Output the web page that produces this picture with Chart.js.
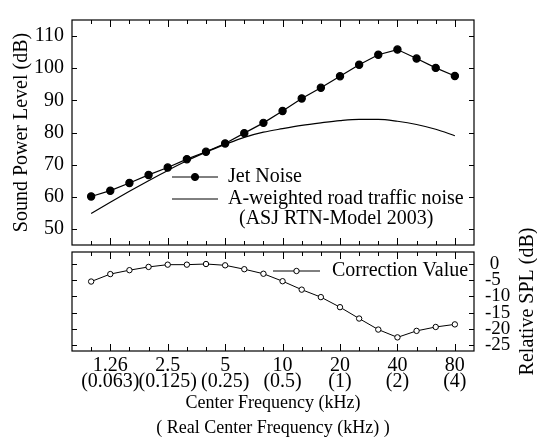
<!DOCTYPE html>
<html>
<head>
<meta charset="utf-8">
<script src="https://cdn.jsdelivr.net/npm/chart.js@4.4.1/dist/chart.umd.min.js"></script>
<style>
  html, body { margin: 0; padding: 0; background: #fff; }
  #wrap { position: relative; width: 537px; height: 448px; }
  #wrap canvas { position: absolute; left: 0; top: 0; }
</style>
</head>
<body>
<div id="wrap">
  <canvas id="top" width="537" height="448"></canvas>
  <canvas id="bottom" width="537" height="448"></canvas>
</div>
<script>
// 1/3 octave bands (model scale kHz)
var freqs = ["1", "1.26", "1.6", "2", "2.5", "3.15", "4", "5", "6.3", "8",
             "10", "12.5", "16", "20", "25", "31.5", "40", "50", "63", "80"];
// labelled bands and their real center frequency
var labelIdx = [1, 4, 7, 10, 13, 16, 19];
var realFreqs = ["0.063", "0.125", "0.25", "0.5", "1", "2", "4"];

var jetNoise = [60.1, 61.9, 64.3, 66.8, 69.1, 71.7, 74.0, 76.6, 79.8, 83.0,
                86.7, 90.6, 93.9, 97.5, 101.1, 104.2, 105.8, 103.0, 100.1, 97.6];
var roadTraffic = [54.8, 58.3, 61.7, 65.0, 68.2, 71.2, 73.9, 76.3, 78.5, 80.1,
                   81.2, 82.2, 83.0, 83.7, 84.1, 84.1, 83.5, 82.5, 81.0, 79.0];
var correction = [-5.4, -3.1, -1.9, -0.9, -0.2, -0.2, 0.0, -0.4, -1.6, -3.0,
                  -5.3, -7.9, -10.2, -13.3, -16.8, -20.2, -22.6, -20.6, -19.4, -18.6];

var splTicks = [50, 60, 70, 80, 90, 100, 110];
var relTicks = [0, -5, -10, -15, -20, -25];

var FONT = "'Liberation Serif', 'Times New Roman', serif";

function pts(arr) {
  return arr.map(function (v, i) { return { x: i, y: v }; });
}

// frame + inward tick marks
var frameTicks = {
  id: "frameTicks",
  afterDraw: function (chart) {
    var a = chart.chartArea, c = chart.ctx;
    var xs = chart.scales.x, ys = chart.scales.y;
    c.save();
    c.strokeStyle = "#000";
    c.lineWidth = 1.2;
    c.strokeRect(a.left, a.top, a.right - a.left, a.bottom - a.top);
    c.lineWidth = 1;
    c.beginPath();
    freqs.forEach(function (f, i) {
      var x = Math.round(xs.getPixelForValue(i)) + 0.5;
      var len = labelIdx.indexOf(i) >= 0 ? 7 : 4;
      c.moveTo(x, a.bottom); c.lineTo(x, a.bottom - len);
      c.moveTo(x, a.top); c.lineTo(x, a.top + len);
    });
    ys.ticks.forEach(function (t) {
      var y = Math.round(ys.getPixelForValue(t.value)) + 0.5;
      c.moveTo(a.left, y); c.lineTo(a.left + 5, y);
      c.moveTo(a.right, y); c.lineTo(a.right - 5, y);
    });
    c.stroke();
    c.restore();
  }
};

// legend drawn inside the plot
var boxLegend = {
  id: "boxLegend",
  afterDraw: function (chart, args, opts) {
    var c = chart.ctx;
    c.save();
    c.font = opts.size + "px " + FONT;
    c.fillStyle = "#000";
    c.textBaseline = "middle";
    opts.items.forEach(function (it) {
      if (it.line) {
        c.strokeStyle = "#000";
        c.lineWidth = 1;
        c.beginPath();
        c.moveTo(it.line[0], it.y);
        c.lineTo(it.line[1], it.y);
        c.stroke();
        if (it.marker) {
          c.beginPath();
          c.arc((it.line[0] + it.line[1]) / 2, it.y, it.marker.r, 0, Math.PI * 2);
          c.fillStyle = it.marker.fill;
          c.fill();
          c.stroke();
          c.fillStyle = "#000";
        }
      }
      c.fillText(it.text, it.tx, it.y);
    });
    if (opts.rightTitle) {
      var t = opts.rightTitle;
      c.translate(t.x, (chart.chartArea.top + chart.chartArea.bottom) / 2);
      c.rotate(-Math.PI / 2);
      c.textAlign = "center";
      c.font = t.size + "px " + FONT;
      c.fillText(t.text, 0, 0);
    }
    c.restore();
  }
};

Chart.defaults.font.family = FONT;
Chart.defaults.color = "#000";

new Chart(document.getElementById("top"), {
  type: "line",
  data: {
    datasets: [
      {
        label: "Jet Noise",
        data: pts(jetNoise),
        borderColor: "#000",
        borderWidth: 1.2,
        pointRadius: 3.6,
        pointBackgroundColor: "#000",
        pointBorderColor: "#000",
        tension: 0
      },
      {
        label: "A-weighted road traffic noise",
        data: pts(roadTraffic),
        borderColor: "#000",
        borderWidth: 1.2,
        pointRadius: 0,
        cubicInterpolationMode: "monotone"
      }
    ]
  },
  options: {
    responsive: false,
    animation: false,
    layout: { padding: { left: 0, top: 12, right: 63, bottom: 203 } },
    plugins: {
      legend: { display: false },
      tooltip: { enabled: false },
      boxLegend: {
        size: 20,
        items: [
          { text: "Jet Noise", tx: 228, y: 177, line: [172, 218], marker: { r: 3.6, fill: "#000" } },
          { text: "A-weighted road traffic noise", tx: 228, y: 199, line: [172, 218] },
          { text: "(ASJ RTN-Model 2003)", tx: 239, y: 219 }
        ]
      }
    },
    scales: {
      x: { type: "linear", min: -1, max: 20, display: false },
      y: {
        position: "left",
        min: 45,
        max: 115,
        afterFit: function (s) { s.width = 72; },
        afterBuildTicks: function (s) { s.ticks = splTicks.map(function (v) { return { value: v }; }); },
        grid: { display: false, drawTicks: false },
        border: { display: false },
        ticks: { font: { size: 20 }, padding: 8 },
        title: {
          display: true,
          text: "Sound Power Level (dB)",
          font: { size: 20 },
          padding: { top: 10, bottom: 0 }
        }
      }
    }
  },
  plugins: [frameTicks, boxLegend]
});

new Chart(document.getElementById("bottom"), {
  type: "line",
  data: {
    datasets: [
      {
        label: "Correction Value",
        data: pts(correction),
        borderColor: "#000",
        borderWidth: 1,
        pointRadius: 2.7,
        pointBackgroundColor: "#fff",
        pointBorderColor: "#000",
        pointBorderWidth: 1,
        tension: 0
      }
    ]
  },
  options: {
    responsive: false,
    animation: false,
    layout: { padding: { left: 72, top: 252, right: 0, bottom: 0 } },
    plugins: {
      legend: { display: false },
      tooltip: { enabled: false },
      boxLegend: {
        size: 20,
        items: [
          { text: "Correction Value", tx: 332, y: 271, line: [273, 320], marker: { r: 2.7, fill: "#fff" } }
        ],
        rightTitle: { text: "Relative SPL (dB)", x: 528, size: 20 }
      }
    },
    scales: {
      x: {
        type: "linear",
        min: -1,
        max: 20,
        position: "bottom",
        afterFit: function (s) { s.height = 97; },
        afterBuildTicks: function (s) { s.ticks = labelIdx.map(function (i) { return { value: i }; }); },
        grid: { display: false, drawTicks: false },
        border: { display: false },
        ticks: {
          font: { size: 20, lineHeight: 0.78 },
          padding: 7,
          maxRotation: 0,
          autoSkip: false,
          callback: function (v) {
            var k = labelIdx.indexOf(v);
            return [freqs[v], "(" + realFreqs[k] + ")"];
          }
        },
        title: {
          display: true,
          text: ["Center Frequency (kHz)", "( Real Center Frequency (kHz) )"],
          font: { size: 18, lineHeight: "25px" },
          padding: { top: 0, bottom: 7 }
        }
      },
      y: {
        position: "right",
        min: -26.8,
        max: 3.7,
        afterFit: function (s) { s.width = 63; },
        afterBuildTicks: function (s) { s.ticks = relTicks.map(function (v) { return { value: v }; }); },
        grid: { display: false, drawTicks: false },
        border: { display: false },
        ticks: {
          font: { size: 19, lineHeight: 0.8 },
          padding: 11,
          callback: function (v) { return v === 0 ? " 0" : String(v); }
        }
      }
    }
  },
  plugins: [frameTicks, boxLegend]
});
</script>
</body>
</html>
